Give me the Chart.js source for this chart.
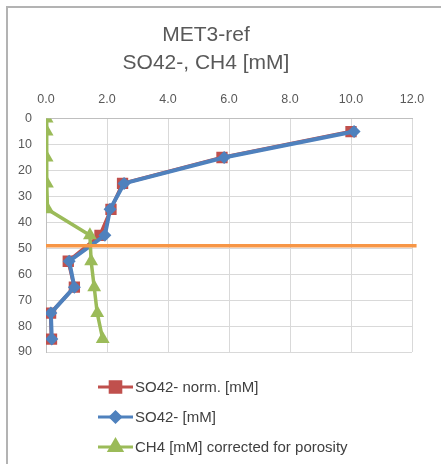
<!DOCTYPE html>
<html>
<head>
<meta charset="utf-8">
<script src="https://cdn.jsdelivr.net/npm/chart.js@4.4.1/dist/chart.umd.min.js"></script>
<style>
  html, body { margin: 0; padding: 0; background: #fff; overflow: hidden; }
  #myCanvas { display: block; }
</style>
</head>
<body>
<canvas id="myCanvas" width="441" height="464"></canvas>
<script>
// depths [cm] and concentrations [mM]
var depthSO4 = [5, 15, 25, 35, 45, 55, 65, 75, 85];
var so4Norm = [10.0, 5.77, 2.51, 2.13, 1.77, 0.73, 0.93, 0.15, 0.18];
var so4 = [10.1, 5.84, 2.56, 2.1, 1.93, 0.76, 0.93, 0.16, 0.19];
var depthCH4 = [0, 5, 15, 25, 35, 45, 55, 65, 75, 85];
var ch4 = [0.02, 0.02, 0.02, 0.03, 0.05, 1.44, 1.48, 1.58, 1.68, 1.86];
var smtzDepth = 49;
var smtzX = [0, 12.15];
var xTicks = [0, 2, 4, 6, 8, 10, 12];
var yTicks = [0, 10, 20, 30, 40, 50, 60, 70, 80, 90];

var pts = function (xs, ys) {
    return xs.map(function (v, i) { return { x: v, y: ys[i] }; });
};

var red = '#c0504d', blue = '#4f81bd', green = '#9bbb59', orange = '#f79646';
var textCol = '#595959';
var font = "'Liberation Sans', Arial, sans-serif";

// chart-area frame, only left and top edges are inside the picture
var framePlugin = {
    id: 'frame',
    beforeDraw: function (chart) {
        var ctx = chart.ctx;
        ctx.save();
        ctx.strokeStyle = '#b3b3b3';
        ctx.lineWidth = 2;
        ctx.beginPath();
        ctx.moveTo(7, chart.height);
        ctx.lineTo(7, 7);
        ctx.lineTo(chart.width, 7);
        ctx.stroke();
        ctx.restore();
    }
};

// vertical legend like the excel one
var legendPlugin = {
    id: 'stackLegend',
    afterDraw: function (chart) {
        var ctx = chart.ctx;
        var rows = [387, 417, 447];
        var shown = [0, 1, 2];
        ctx.save();
        shown.forEach(function (di, r) {
            var ds = chart.data.datasets[di];
            var y = rows[r];
            ctx.strokeStyle = ds.borderColor;
            ctx.lineWidth = 3;
            ctx.beginPath();
            ctx.moveTo(98, y);
            ctx.lineTo(133, y);
            ctx.stroke();
            Chart.helpers.drawPoint(ctx, {
                pointStyle: ds.pointStyle,
                radius: ds.legendRadius,
                borderWidth: 1
            }, 115.5, y);
            ctx.fillStyle = ds.backgroundColor;
            ctx.fill();
            ctx.fillStyle = '#404040';
            ctx.font = '15px ' + font;
            ctx.textBaseline = 'middle';
            ctx.textAlign = 'left';
            ctx.fillText(ds.label, 135, y + 1);
        });
        ctx.restore();
    }
};

var ctx_live = document.getElementById('myCanvas');
var myChart = new Chart(ctx_live, {
    type: 'line',
    data: {
        datasets: [{
            label: 'SO42- norm. [mM]',
            data: pts(so4Norm, depthSO4),
            borderColor: red,
            backgroundColor: red,
            borderWidth: 3.5,
            pointStyle: 'rect',
            pointRadius: 8,
            legendRadius: 7.5,
            pointBorderWidth: 0,
            order: 3
        }, {
            label: 'SO42- [mM]',
            data: pts(so4, depthSO4),
            borderColor: blue,
            backgroundColor: blue,
            borderWidth: 4,
            pointStyle: 'rectRot',
            pointRadius: 6.5,
            legendRadius: 5,
            pointBorderWidth: 0,
            order: 2
        }, {
            label: 'CH4 [mM] corrected for porosity',
            data: pts(ch4, depthCH4),
            borderColor: green,
            backgroundColor: green,
            borderWidth: 3.5,
            pointStyle: 'triangle',
            pointRadius: 8,
            legendRadius: 7,
            pointBorderWidth: 0,
            order: 1
        }, {
            label: 'SMTZ',
            data: pts(smtzX, [smtzDepth, smtzDepth]),
            borderColor: orange,
            backgroundColor: orange,
            borderWidth: 3.5,
            pointRadius: 0,
            clip: false,
            order: 0
        }]
    },
    options: {
        responsive: false,
        animation: false,
        layout: { padding: { top: 8, left: 0, right: 29, bottom: 112 } },
        plugins: {
            legend: { display: false },
            tooltip: { enabled: false },
            title: {
                display: true,
                text: ['MET3-ref', 'SO42-, CH4 [mM]'],
                color: textCol,
                font: { family: font, size: 21, weight: 'normal', lineHeight: 1.3 },
                padding: { top: 14, bottom: 0 }
            }
        },
        scales: {
            x: {
                type: 'linear',
                position: 'top',
                min: 0,
                max: 12,
                afterBuildTicks: function (s) { s.ticks = xTicks.map(function (v) { return { value: v }; }); },
                afterFit: function (s) { s.height = 42; },
                ticks: {
                    color: textCol,
                    font: { family: font, size: 12.5 },
                    padding: 12,
                    callback: function (v) { return v.toFixed(1); }
                },
                grid: { color: '#d9d9d9', drawTicks: false },
                border: { color: '#bfbfbf' }
            },
            y: {
                type: 'linear',
                reverse: true,
                min: 0,
                max: 90,
                afterBuildTicks: function (s) { s.ticks = yTicks.map(function (v) { return { value: v }; }); },
                afterFit: function (s) { s.width = 46; },
                ticks: {
                    color: textCol,
                    font: { family: font, size: 12.5 },
                    padding: 14
                },
                grid: { color: '#d9d9d9', drawTicks: false },
                border: { color: '#bfbfbf' }
            }
        }
    },
    plugins: [framePlugin, legendPlugin]
});
</script>
</body>
</html>
